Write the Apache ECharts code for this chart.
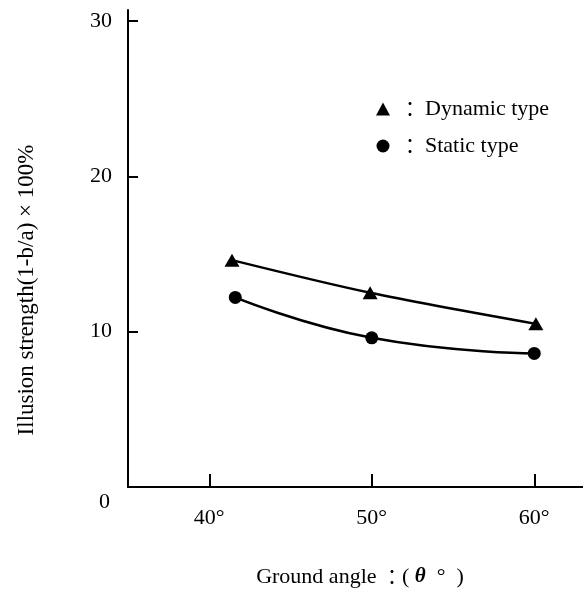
<!DOCTYPE html>
<html lang="en">
<head>
    <meta charset="UTF-8">
    <title>Illusion strength vs ground angle</title>
    <script src="https://cdn.jsdelivr.net/npm/echarts@6/dist/echarts.min.js"></script>
    <style>
        html, body { margin: 0; padding: 0; background: #fff; }
        #chart { width: 583px; height: 591px; }
    </style>
</head>
<body>
<div id="chart"></div>
<script>
    // data
    var dynamicAngle = [41.4, 49.9, 60.1];
    var dynamicValue = [14.6, 12.5, 10.5];
    var staticAngle = [41.6, 50.0, 60.0];
    var staticValue = [12.2, 9.6, 8.6];
    var xTicks = [40, 50, 60];
    var yTicks = [0, 10, 20, 30];

    var FONT = '"Liberation Serif", "DejaVu Serif", serif';

    function pairs(xs, ys) {
        var out = [];
        for (var i = 0; i < xs.length; i++) out.push([xs[i], ys[i]]);
        return out;
    }

    var chart = echarts.init(document.getElementById('chart'));
    chart.setOption({
        animation: false,
        backgroundColor: '#fff',
        grid: { left: 128, right: 0, top: 10, bottom: 104 },
        legend: {
            orient: 'vertical',
            left: 376,
            top: 98,
            padding: 0,
            itemWidth: 14,
            itemHeight: 13,
            itemGap: 15,
            textStyle: {
                color: '#000',
                fontFamily: FONT,
                fontSize: 22,
                rich: {
                    c: { fontFamily: '"Noto Sans CJK JP"', fontSize: 20, color: '#000', width: 30, align: 'right' },
                    t: { fontFamily: FONT, fontSize: 22, color: '#000' }
                }
            },
            formatter: function (name) {
                return '{c|：}{t|' + name + '}';
            },
            data: [
                { name: 'Dynamic type', icon: 'triangle' },
                { name: 'Static type', icon: 'circle' }
            ]
        },
        xAxis: {
            type: 'value',
            min: 35,
            max: 63,
            splitLine: { show: false },
            axisLine: { lineStyle: { color: '#000', width: 2 } },
            axisTick: {
                inside: true,
                length: 13,
                customValues: xTicks,
                lineStyle: { color: '#000', width: 2 }
            },
            axisLabel: {
                customValues: xTicks,
                margin: 20,
                color: '#000',
                fontFamily: FONT,
                fontSize: 22,
                formatter: function (v) { return v + '°'; }
            }
        },
        yAxis: {
            type: 'value',
            min: 0,
            max: 30.7,
            splitLine: { show: false },
            axisLine: { lineStyle: { color: '#000', width: 2 } },
            axisTick: {
                inside: true,
                length: 10,
                customValues: yTicks.slice(1),
                lineStyle: { color: '#000', width: 2 }
            },
            axisLabel: {
                customValues: yTicks,
                margin: 16,
                color: '#000',
                fontFamily: FONT,
                fontSize: 22,
                formatter: function (v) { return v === 0 ? '{z|0}' : String(v); },
                rich: {
                    z: { padding: [30, 2, 0, 0], fontFamily: FONT, fontSize: 22, color: '#000' }
                }
            }
        },
        graphic: [
            {
                type: 'text',
                x: 27,
                y: 290,
                rotation: Math.PI / 2,
                style: {
                    text: 'Illusion strength(1-b/a) × 100%',
                    fill: '#000',
                    font: '23px ' + FONT,
                    align: 'center',
                    verticalAlign: 'middle'
                }
            },
            {
                type: 'text',
                x: 360,
                y: 577,
                style: {
                    rich: {
                        n: { font: '22px ' + FONT, fill: '#000' },
                        c: { font: '20px "Noto Sans CJK JP"', fill: '#000' },
                        th: { font: 'italic bold 21px ' + FONT, fill: '#000' }
                    },
                    text: '{n|Ground angle }{c|：}{n|( }{th|θ}{n|  °  )}',
                    align: 'center',
                    verticalAlign: 'middle'
                }
            }
        ],
        series: [
            {
                name: 'Dynamic type',
                type: 'line',
                smooth: 0.3,
                symbol: 'triangle',
                symbolSize: [15, 13],
                itemStyle: { color: '#000' },
                lineStyle: { color: '#000', width: 2.5 },
                data: pairs(dynamicAngle, dynamicValue)
            },
            {
                name: 'Static type',
                type: 'line',
                smooth: 0.5,
                symbol: 'circle',
                symbolSize: 13,
                itemStyle: { color: '#000' },
                lineStyle: { color: '#000', width: 2.5 },
                data: pairs(staticAngle, staticValue)
            }
        ]
    });
</script>
</body>
</html>
